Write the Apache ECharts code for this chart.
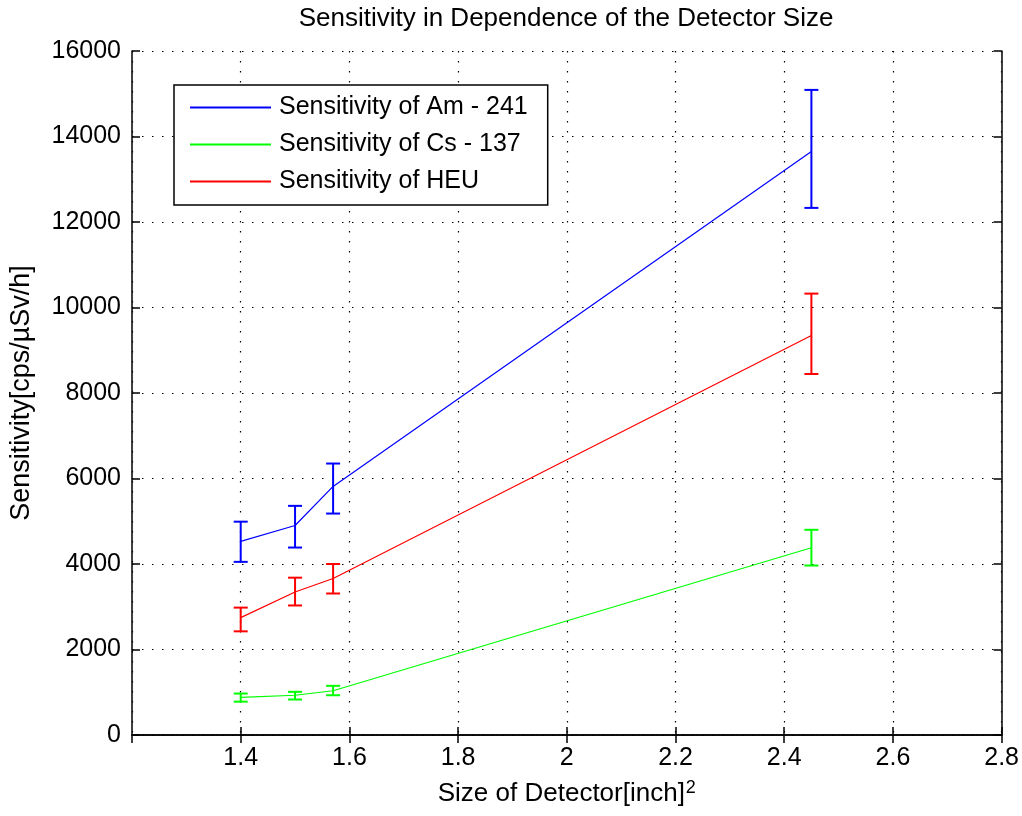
<!DOCTYPE html>
<html>
<head>
<meta charset="utf-8">
<script src="https://cdn.jsdelivr.net/npm/echarts@6/dist/echarts.min.js"></script>
<style>
html,body{margin:0;padding:0;background:#fff;}
#chart{width:1022px;height:816px;}
</style>
</head>
<body>
<div id="chart"></div>
<script>
// ---- data ----
const detectorSizes = [1.4, 1.5, 1.57, 2.45];
const amValues = [4530, 4900, 5815, 13650];
const amLower  = [4050, 4385, 5180, 12330];
const amUpper  = [4990, 5360, 6350, 15090];
const csValues = [880, 930, 1035, 4380];
const csLower  = [780, 830, 930, 3965];
const csUpper  = [970, 1010, 1150, 4800];
const heuValues = [2745, 3345, 3660, 9345];
const heuLower  = [2425, 3030, 3310, 8445];
const heuUpper  = [2980, 3680, 4000, 10325];
const seriesNames = ['Sensitivity of Am - 241', 'Sensitivity of Cs - 137', 'Sensitivity of HEU'];
const titleText = 'Sensitivity in Dependence of the Detector Size';
const xTitle = 'Size of Detector[inch]';
const yTitle = 'Sensitivity[cps/µSv/h]';

const FONT = 'Liberation Sans, Arial, sans-serif';
const colors = ['#0000ff', '#00ff00', '#ff0000'];

function pairs(vals) { return detectorSizes.map((x, i) => [x, vals[i]]); }
function errData(lo, hi) { return detectorSizes.map((x, i) => [x, lo[i], hi[i]]); }

function errSeries(lo, hi, color) {
  return {
    type: 'custom',
    xAxisIndex: 0, yAxisIndex: 0,
    data: errData(lo, hi),
    encode: { x: 0, y: [1, 2] },
    silent: true,
    z: 3,
    renderItem: function (params, api) {
      const x = api.value(0);
      const a = api.coord([x, api.value(1)]);
      const b = api.coord([x, api.value(2)]);
      const hw = 7;
      const st = { stroke: color, lineWidth: 2 };
      return {
        type: 'group',
        children: [
          { type: 'line', shape: { x1: a[0], y1: a[1], x2: b[0], y2: b[1] }, style: st },
          { type: 'line', shape: { x1: a[0] - hw, y1: a[1], x2: a[0] + hw, y2: a[1] }, style: st },
          { type: 'line', shape: { x1: b[0] - hw, y1: b[1], x2: b[0] + hw, y2: b[1] }, style: st }
        ]
      };
    }
  };
}

function lineSeries(name, vals, color) {
  return {
    name: name, type: 'line', data: pairs(vals),
    xAxisIndex: 0, yAxisIndex: 0,
    symbol: 'none', z: 4,
    lineStyle: { color: color, width: 1.2 },
    itemStyle: { color: color }
  };
}

const axisLineStyle = { color: '#000', width: 1.5 };
const gridDots = { color: '#000', width: 1.2, type: [1.5, 8.5] };

const chart = echarts.init(document.getElementById('chart'), null, { renderer: 'canvas' });
chart.setOption({
  animation: false,
  backgroundColor: '#fff',
  grid: { left: 132, right: 18, top: 51, bottom: 79 },
  graphic: [{
    type: 'text', x: 566, y: 19,
    style: { text: titleText, fill: '#000', font: '26px ' + FONT, align: 'center', verticalAlign: 'middle' }
  }],
  legend: {
    data: seriesNames,
    orient: 'vertical',
    left: 174, top: 85,
    itemWidth: 81, itemHeight: 25, itemGap: 12,
    padding: [10, 20, 11, 15],
    backgroundColor: '#fff',
    borderColor: '#000', borderWidth: 1.5,
    itemStyle: { opacity: 0 },
    textStyle: { fontSize: 25, fontFamily: FONT, color: '#000', padding: [0, 0, 0, 3] }
  },
  xAxis: [{
    type: 'value', min: 1.2, max: 2.8, interval: 0.2, position: 'bottom',
    axisLine: { show: true, lineStyle: axisLineStyle },
    axisTick: { show: true, inside: true, length: 8, lineStyle: axisLineStyle },
    axisLabel: { fontSize: 25, fontFamily: FONT, color: '#000', margin: 11, showMinLabel: false },
    splitLine: { show: true, lineStyle: gridDots },
    name: xTitle + '{sup|2}',
    nameLocation: 'middle', nameGap: 44,
    nameTextStyle: {
      fontSize: 26, fontFamily: FONT, color: '#000',
      rich: { sup: { fontSize: 18, fontFamily: FONT, color: '#000', verticalAlign: 'top', lineHeight: 30, padding: [0, 0, 14, 1] } }
    }
  }, {
    type: 'value', min: 1.2, max: 2.8, interval: 0.2, position: 'top',
    axisLine: { show: true, lineStyle: axisLineStyle },
    axisTick: { show: true, inside: true, length: 8, lineStyle: axisLineStyle },
    axisLabel: { show: false }, splitLine: { show: false }
  }],
  yAxis: [{
    type: 'value', min: 0, max: 16000, interval: 2000, position: 'left',
    axisLine: { show: true, lineStyle: axisLineStyle },
    axisTick: { show: true, inside: true, length: 8, lineStyle: axisLineStyle },
    axisLabel: { fontSize: 25, fontFamily: FONT, color: '#000', margin: 11, formatter: v => String(v) },
    splitLine: { show: true, lineStyle: gridDots },
    name: yTitle, nameLocation: 'middle', nameGap: 97,
    nameTextStyle: { fontSize: 27, fontFamily: FONT, color: '#000' }
  }, {
    type: 'value', min: 0, max: 16000, interval: 2000, position: 'right',
    axisLine: { show: true, lineStyle: axisLineStyle },
    axisTick: { show: true, inside: true, length: 8, lineStyle: axisLineStyle },
    axisLabel: { show: false }, splitLine: { show: false }
  }],
  series: [
    lineSeries(seriesNames[0], amValues, colors[0]),
    lineSeries(seriesNames[1], csValues, colors[1]),
    lineSeries(seriesNames[2], heuValues, colors[2]),
    errSeries(amLower, amUpper, colors[0]),
    errSeries(csLower, csUpper, colors[1]),
    errSeries(heuLower, heuUpper, colors[2])
  ]
});
</script>
</body>
</html>
